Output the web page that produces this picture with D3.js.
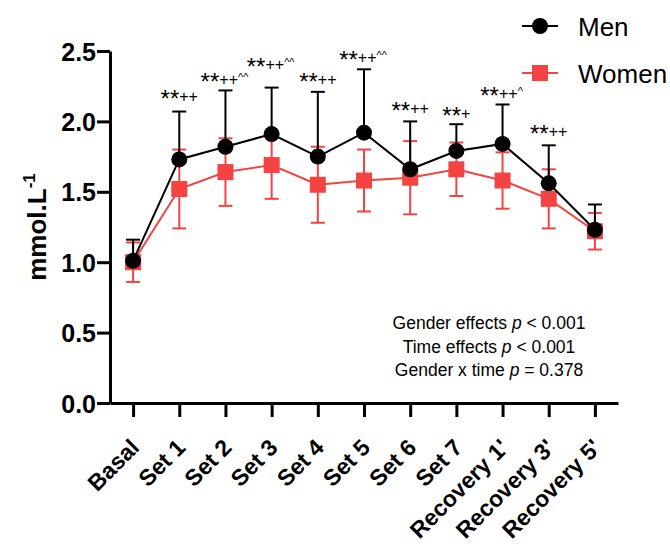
<!DOCTYPE html>
<html>
<head>
<meta charset="utf-8">
<script src="https://cdn.jsdelivr.net/npm/d3@7/dist/d3.min.js"></script>
<style>
  html, body { margin: 0; padding: 0; background: #fff; }
  svg { display: block; font-family: "Liberation Sans", Arial, sans-serif; }
</style>
</head>
<body>
<svg id="chart" width="670" height="546"></svg>
<script>
// ---- data ----
const categories = ["Basal", "Set 1", "Set 2", "Set 3", "Set 4", "Set 5", "Set 6", "Set 7", "Recovery 1'", "Recovery 3'", "Recovery 5'"];
const menMean   = [1.01, 1.73, 1.82, 1.91, 1.75, 1.92, 1.66, 1.79, 1.84, 1.56, 1.23];
const menSD     = [0.15, 0.34, 0.40, 0.33, 0.46, 0.45, 0.34, 0.19, 0.28, 0.27, 0.18];
const womenMean = [1.00, 1.52, 1.64, 1.69, 1.55, 1.58, 1.60, 1.66, 1.58, 1.45, 1.22];
const womenSD   = [0.14, 0.28, 0.24, 0.24, 0.27, 0.22, 0.26, 0.19, 0.20, 0.21, 0.13];
const annotStars = ["", "**", "**", "**", "**", "**", "**", "**", "**", "**", ""];
const annotPlus  = ["", "++", "++", "++", "++", "++", "++", "+", "++", "++", ""];
const annotCaret = ["", "", "^^", "^^", "", "^^", "", "", "^", "", ""];
const annotLevel = [0, 2.20, 2.32, 2.43, 2.32, 2.48, 2.12, 2.08, 2.22, 1.95, 0];
const yTicks = [0.0, 0.5, 1.0, 1.5, 2.0, 2.5];
const statsLines = [
  ["Gender effects ", "p", " < 0.001"],
  ["Time effects ", "p", " < 0.001"],
  ["Gender x time ", "p", " = 0.378"]
];
const seriesNames = ["Men", "Women"];

// ---- layout ----
const svg = d3.select("#chart");
const mLeft = 110, mRight = 618, mTop = 51, mBottom = 403;
const red = "#f44343";

const x = d3.scalePoint().domain(categories).range([mLeft, mRight]).padding(0.5);
const y = d3.scaleLinear().domain([0, 2.5]).range([mBottom, mTop]);

// y axis
const yAxis = svg.append("g").attr("transform", `translate(${mLeft},0)`)
  .call(d3.axisLeft(y).tickValues(yTicks).tickFormat(d3.format(".1f")).tickSize(13).tickSizeOuter(0));
yAxis.select(".domain").attr("stroke", "#000").attr("stroke-width", 3);
yAxis.selectAll(".tick line").attr("stroke", "#000").attr("stroke-width", 3);
yAxis.selectAll(".tick text").attr("font-size", 25).attr("font-weight", "bold").attr("fill", "#000").attr("x", -14).attr("dy", "0.36em");

// x axis
const xAxis = svg.append("g").attr("transform", `translate(0,${mBottom})`)
  .call(d3.axisBottom(x).tickSize(14).tickSizeOuter(0));
xAxis.select(".domain").attr("stroke", "#000").attr("stroke-width", 3);
xAxis.selectAll(".tick line").attr("stroke", "#000").attr("stroke-width", 3);
xAxis.selectAll(".tick text")
  .attr("font-size", 23).attr("font-weight", "bold").attr("fill", "#000")
  .attr("text-anchor", "end")
  .attr("x", 0).attr("y", 0).attr("dy", 0)
  .attr("transform", "translate(7,46) rotate(-45)");

// y axis label
const yl = svg.append("text")
  .attr("transform", `translate(46,${(mTop + mBottom) / 2}) rotate(-90)`)
  .attr("text-anchor", "middle").attr("font-size", 26).attr("font-weight", "bold").attr("fill", "#000");
yl.append("tspan").text("mmol.L");
yl.append("tspan").attr("font-size", 17).attr("dy", -11).text("-1");

// ---- women (drawn first) ----
const line = d3.line().x((d, i) => x(categories[i])).y(d => y(d));
const cap = 7;

const gW = svg.append("g");
gW.append("path").datum(womenMean).attr("d", line).attr("fill", "none").attr("stroke", red).attr("stroke-width", 2);
womenMean.forEach((m, i) => {
  const cx = x(categories[i]);
  const hi = y(m + womenSD[i]), lo = y(m - womenSD[i]);
  gW.append("line").attr("x1", cx).attr("x2", cx).attr("y1", hi).attr("y2", lo).attr("stroke", red).attr("stroke-width", 2);
  gW.append("line").attr("x1", cx - cap).attr("x2", cx + cap).attr("y1", hi).attr("y2", hi).attr("stroke", red).attr("stroke-width", 2);
  gW.append("line").attr("x1", cx - cap).attr("x2", cx + cap).attr("y1", lo).attr("y2", lo).attr("stroke", red).attr("stroke-width", 2);
});
gW.selectAll("rect").data(womenMean).join("rect")
  .attr("x", (d, i) => x(categories[i]) - 8).attr("y", d => y(d) - 8)
  .attr("width", 16).attr("height", 16).attr("fill", red);

// ---- men ----
const gM = svg.append("g");
menMean.forEach((m, i) => {
  const cx = x(categories[i]);
  const hi = y(m + menSD[i]);
  gM.append("line").attr("x1", cx).attr("x2", cx).attr("y1", hi).attr("y2", y(m)).attr("stroke", "#000").attr("stroke-width", 2);
  gM.append("line").attr("x1", cx - cap).attr("x2", cx + cap).attr("y1", hi).attr("y2", hi).attr("stroke", "#000").attr("stroke-width", 2);
});
gM.append("path").datum(menMean).attr("d", line).attr("fill", "none").attr("stroke", "#000").attr("stroke-width", 2);
gM.selectAll("circle").data(menMean).join("circle")
  .attr("cx", (d, i) => x(categories[i])).attr("cy", d => y(d)).attr("r", 8).attr("fill", "#000");

// ---- annotations ----
annotStars.forEach((s, i) => {
  if (!s) return;
  const t = svg.append("text").attr("x", x(categories[i]) - (annotCaret[i] ? 1 : 0)).attr("y", y(annotLevel[i]) + 14)
    .attr("text-anchor", "middle").attr("fill", "#000");
  t.append("tspan").attr("font-size", 24).text(s);
  t.append("tspan").attr("font-size", 16).attr("dy", -5).text(annotPlus[i]);
  if (annotCaret[i]) t.append("tspan").attr("font-size", 11).attr("dy", -4).text(annotCaret[i]);
});

// ---- legend ----
const lg = svg.append("g");
lg.append("line").attr("x1", 522).attr("x2", 558).attr("y1", 26).attr("y2", 26).attr("stroke", "#000").attr("stroke-width", 2);
lg.append("circle").attr("cx", 540).attr("cy", 26).attr("r", 8).attr("fill", "#000");
lg.append("text").attr("x", 578).attr("y", 36).attr("font-size", 26).attr("fill", "#000").text(seriesNames[0]);
lg.append("line").attr("x1", 522).attr("x2", 558).attr("y1", 73).attr("y2", 73).attr("stroke", red).attr("stroke-width", 2);
lg.append("rect").attr("x", 532).attr("y", 65).attr("width", 16).attr("height", 16).attr("fill", red);
lg.append("text").attr("x", 578).attr("y", 83).attr("font-size", 26).attr("fill", "#000").text(seriesNames[1]);

// ---- stats text ----
statsLines.forEach((parts, i) => {
  const t = svg.append("text").attr("x", 489).attr("y", 329 + i * 23.5).attr("text-anchor", "middle")
    .attr("font-size", 17.5).attr("fill", "#000");
  t.append("tspan").text(parts[0]);
  t.append("tspan").attr("font-style", "italic").text(parts[1]);
  t.append("tspan").text(parts[2]);
});
</script>
</body>
</html>
